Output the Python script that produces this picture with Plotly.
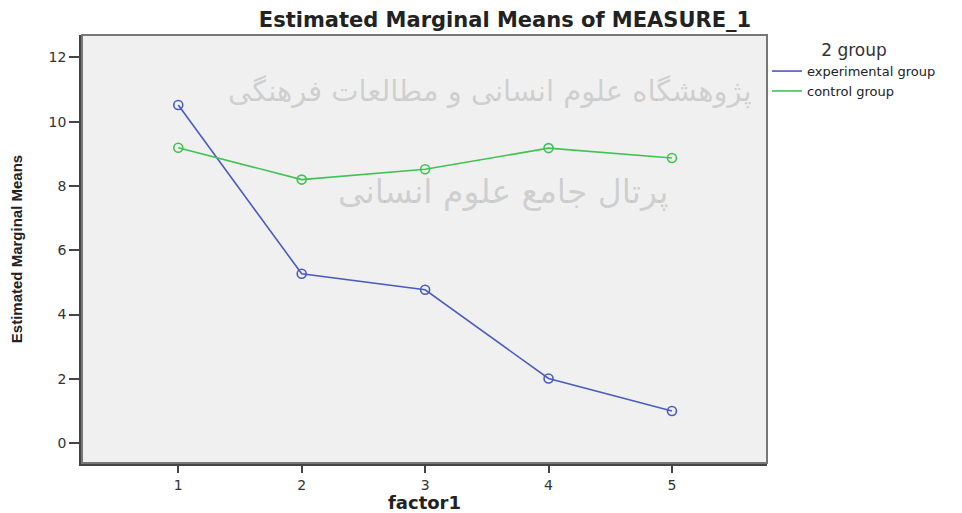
import plotly.graph_objects as go

factor_levels = [1, 2, 3, 4, 5]
experimental_group = [10.52, 5.27, 4.77, 2.01, 1.00]
control_group = [9.19, 8.20, 8.52, 9.18, 8.87]
y_ticks = [0, 2, 4, 6, 8, 10, 12]
series_names = ["experimental group", "control group"]
watermark_lines = ["پژوهشگاه علوم انسانی و مطالعات فرهنگی", "پرتال جامع علوم انسانی"]

BLUE = "#4a5cbf"
GREEN = "#3fc452"
WIDE = "DejaVu Sans"

# the page body has an 8px margin, so the figure is sized to fit the window
W, H = 954, 505

fig = go.Figure()
for name, vals, col in [(series_names[0], experimental_group, BLUE),
                        (series_names[1], control_group, GREEN)]:
    fig.add_trace(go.Scatter(
        x=factor_levels, y=vals, name=name, mode="lines+markers", showlegend=False,
        line=dict(color=col, width=1.6),
        marker=dict(symbol="circle-open", size=9, color=col, line=dict(width=1.6)),
    ))
# legend entries (line only, as in the reference)
for name, col in [(series_names[0], BLUE), (series_names[1], GREEN)]:
    fig.add_trace(go.Scatter(x=[None], y=[None], name=name, mode="lines",
                             line=dict(color=col, width=1.6)))

# faint watermark
fig.add_annotation(text=watermark_lines[0], xref="paper", yref="paper",
                   x=(490 - 82) / 685, y=(463 - 72) / 428, showarrow=False,
                   font=dict(family="DejaVu Sans", size=29, color="rgba(160,160,160,0.42)"))
fig.add_annotation(text=watermark_lines[1], xref="paper", yref="paper",
                   x=(503 - 82) / 685, y=(463 - 192) / 428, showarrow=False,
                   font=dict(family="DejaVu Sans", size=33, color="rgba(160,160,160,0.42)"))

fig.add_shape(type="rect", xref="paper", yref="paper", x0=0, y0=0, x1=1, y1=1,
              line=dict(color="#777777", width=2), layer="above")

fig.update_layout(
    width=W, height=H,
    margin=dict(l=74, r=195, t=27, b=50),
    paper_bgcolor="white", plot_bgcolor="#f0f0f0",
    title=dict(text="<b>Estimated Marginal Means of MEASURE_1</b>",
               xref="container", x=497 / W, xanchor="center",
               yref="container", y=1 - 12 / H, yanchor="middle",
               font=dict(family=WIDE, size=21, color="#222222")),
    font=dict(family=WIDE, size=13, color="#333333"),
    showlegend=True,
    legend=dict(
        title=dict(text="2 group", side="top center",
                   font=dict(family=WIDE, size=17, color="#333333")),
        x=1.0, xanchor="left", y=(463 - 34) / 428, yanchor="top",
        bgcolor="rgba(0,0,0,0)", font=dict(family=WIDE, size=13, color="#222222"),
        itemwidth=30, tracegroupgap=0,
    ),
    xaxis=dict(
        range=[0.22, 5.77], tickmode="array", tickvals=factor_levels, automargin=False,
        ticks="outside", ticklen=7, tickwidth=2, tickcolor="#444444",
        showgrid=False, zeroline=False, showline=True, linecolor="#444444", linewidth=2.5,
        title=dict(text="<b>factor1</b>", standoff=6,
                   font=dict(family=WIDE, size=18, color="#222222")),
        tickfont=dict(size=14, color="#333333"),
    ),
    yaxis=dict(
        range=[-0.62, 12.7], tickmode="array", tickvals=y_ticks, automargin=False,
        ticks="outside", ticklen=10, tickwidth=2, tickcolor="#444444",
        showgrid=False, zeroline=False, showline=True, linecolor="#444444", linewidth=2.5,
        title=dict(text="<b>Estimated Marginal Means</b>", standoff=26,
                   font=dict(family="Liberation Sans", size=15, color="#222222")),
        tickfont=dict(size=14, color="#333333"),
    ),
)

fig.write_html("out.html")
